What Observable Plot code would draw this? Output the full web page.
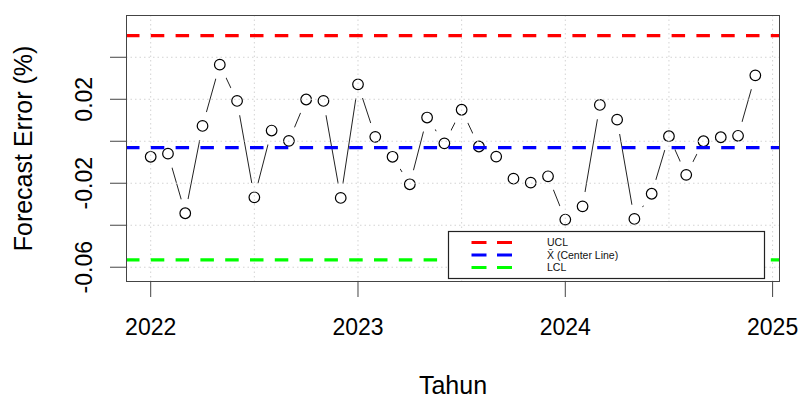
<!DOCTYPE html>
<html>
<head>
<meta charset="utf-8">
<script src="https://cdn.jsdelivr.net/npm/d3@7"></script>
<script src="https://cdn.jsdelivr.net/npm/@observablehq/plot@0.6"></script>
<style>
  html, body { margin: 0; padding: 0; background: #fff; }
  #chart { width: 798px; height: 397px; }
</style>
</head>
<body>
<div id="chart"></div>
<script>
// Monthly forecast error, Jan 2022 – Dec 2024
const startYear = 2022;
const perYear = 12;
const values = [
  -0.0074, -0.0059, -0.0343, 0.0073, 0.0365, 0.0192, -0.0267, 0.0051, 0.0002, 0.0199, 0.0192, -0.0270,
   0.0271, 0.0021, -0.0074, -0.0205, 0.0113, -0.0010, 0.0150, -0.0025, -0.0073, -0.0178, -0.0197, -0.0167,
  -0.0373, -0.0310, 0.0173, 0.0103, -0.0370, -0.0250, 0.0024, -0.0160, 0.0000, 0.0019, 0.0026, 0.0314
];
const controlNames = ["UCL", "X\u0304 (Center Line)", "LCL"];
const controlValues = [0.0503, -0.0030, -0.0565];
const controlColors = ["#ff0000", "#0000ff", "#00ff00"];
const xTicks = [2022, 2023, 2024, 2025];
const xGrid = [2022, 2022.5, 2023, 2023.5, 2024, 2024.5, 2025];
const yTicks = [0.04, 0.02, 0, -0.02, -0.04, -0.06];
const yLabelTicks = [0.02, -0.02, -0.06];
const yLabelText = ["0.02", "-0.02", "-0.06"];

const data = values.map((v, i) => ({t: startYear + i / perYear, v}));
const controls = controlValues.map((v, i) => ({name: controlNames[i], v, color: controlColors[i]}));
const font = "Liberation Sans, Arial, Helvetica, sans-serif";
const gridStyle = {stroke: "#d3d3d3", strokeWidth: 1, strokeDasharray: "1.5,3"};

const svg = Plot.plot({
  width: 798,
  height: 397,
  marginLeft: 126,
  marginTop: 15,
  marginRight: 19,
  marginBottom: 116,
  style: {fontFamily: font, color: "black", background: "white"},
  x: {domain: [2021.8833, 2025.0333], label: null},
  y: {domain: [-0.0668, 0.0599], label: null},
  marks: [
    Plot.line(data, {x: "t", y: "v", stroke: "#222", strokeWidth: 1}),
    Plot.dot(data, {x: "t", y: "v", r: 14.5, fill: "white", stroke: "none"}),
    Plot.dot(data, {x: "t", y: "v", r: 5.3, fill: "none", stroke: "black", strokeWidth: 1.2}),
    Plot.ruleX(xGrid, gridStyle),
    Plot.ruleY(yTicks, gridStyle),
    Plot.ruleY(controls, {y: "v", stroke: "color", strokeWidth: 3.2, strokeDasharray: "13.5,11.3"}),
    Plot.frame({stroke: "#444", strokeWidth: 1}),
    Plot.axisX(xTicks, {tickSize: 16, tickPadding: 21, fontSize: 23, stroke: "#444", fill: "black", tickFormat: d => String(d)}),
    Plot.axisY(yTicks, {tickSize: 16, stroke: "#444", tickFormat: () => ""}),
    Plot.text(yLabelTicks, {y: d => d, text: (d, i) => yLabelText[i], frameAnchor: "left", dx: -35, rotate: -90,
      textAnchor: "middle", lineAnchor: "bottom", fontSize: 23, fill: "black"}),
    Plot.text(["Forecast Error (%)"], {frameAnchor: "left", dx: -95, rotate: -90, textAnchor: "middle",
      lineAnchor: "bottom", fontSize: 25, fill: "black"}),
    Plot.text(["Tahun"], {frameAnchor: "bottom", dy: 112, lineAnchor: "bottom", fontSize: 25, fill: "black"})
  ]
});
document.getElementById("chart").appendChild(svg);

// Legend box (R-style, inside plot, bottom right)
const lg = d3.select(svg).append("g").attr("font-family", font).attr("text-anchor", "start");
lg.append("rect").attr("x", 448.5).attr("y", 231.5).attr("width", 316).attr("height", 47)
  .attr("fill", "white").attr("stroke", "#222").attr("stroke-width", 1.2);
controls.forEach((c, i) => {
  const cy = 242.5 + i * 12.5;
  lg.append("line").attr("x1", 471.5).attr("x2", 512).attr("y1", cy).attr("y2", cy)
    .attr("stroke", c.color).attr("stroke-width", 3).attr("stroke-dasharray", "15,10.5");
  lg.append("text").attr("x", 547).attr("y", cy).attr("dy", "0.35em").attr("text-anchor", "start")
    .attr("font-size", 10.5).attr("fill", "#111").text(c.name);
});
</script>
</body>
</html>
